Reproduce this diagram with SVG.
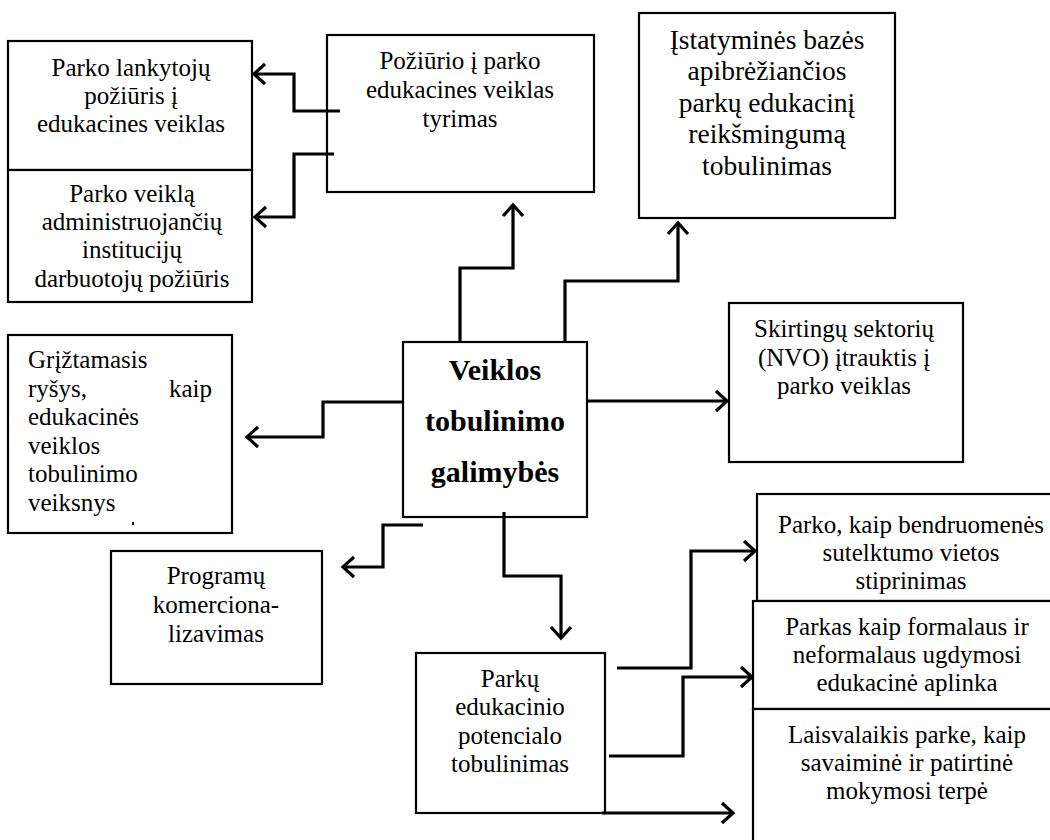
<svg xmlns="http://www.w3.org/2000/svg" width="1050" height="840" viewBox="0 0 1050 840">
<defs>
<style>
.box{fill:#fff;stroke:#000;stroke-width:2.2}
.t{font-family:"Liberation Serif","Times New Roman",serif;font-size:25px;fill:#000;text-anchor:middle}
.tl{font-family:"Liberation Serif","Times New Roman",serif;font-size:25px;fill:#000}
.tc{font-family:"Liberation Serif","Times New Roman",serif;font-size:27.5px;fill:#000;text-anchor:middle}
.tb{font-family:"Liberation Serif","Times New Roman",serif;font-size:30px;font-weight:bold;fill:#000;text-anchor:middle}
.c{fill:none;stroke:#000;stroke-width:3.2;stroke-linejoin:miter}
</style>
<marker id="ah" markerUnits="userSpaceOnUse" markerWidth="26" markerHeight="26" refX="13" refY="13" orient="auto" overflow="visible">
<path d="M2,3 L13,13 L2,23" fill="none" stroke="#000" stroke-width="3.2"/>
</marker>
</defs>
<rect width="1050" height="840" fill="#fff"/>

<g id="node-lankytoju">
<rect class="box" x="8" y="41" width="244" height="129"/>
<text class="t" x="131" y="76">Parko lankytojų</text>
<text class="t" x="131" y="104">požiūris į</text>
<text class="t" x="131" y="132">edukacines veiklas</text>
</g>
<g id="node-administruojanciu">
<rect class="box" x="8" y="170" width="244" height="132"/>
<text class="t" x="132" y="202">Parko veiklą</text>
<text class="t" x="132" y="230">administruojančių</text>
<text class="t" x="132" y="258">institucijų</text>
<text class="t" x="132" y="287">darbuotojų požiūris</text>
</g>
<g id="node-poziurio">
<rect class="box" x="327" y="35" width="267" height="157"/>
<text class="t" x="460" y="69">Požiūrio į parko</text>
<text class="t" x="460" y="98">edukacines veiklas</text>
<text class="t" x="460" y="127">tyrimas</text>
</g>
<g id="node-istatymines">
<rect class="box" x="639" y="13" width="256" height="205"/>
<text class="tc" x="767" y="49">Įstatyminės bazės</text>
<text class="tc" x="767" y="80">apibrėžiančios</text>
<text class="tc" x="767" y="112">parkų edukacinį</text>
<text class="tc" x="767" y="143">reikšmingumą</text>
<text class="tc" x="767" y="175">tobulinimas</text>
</g>
<g id="node-center">
<rect class="box" x="403" y="342" width="184" height="175"/>
<text class="tb" x="495" y="380">Veiklos</text>
<text class="tb" x="495" y="431">tobulinimo</text>
<text class="tb" x="495" y="482">galimybės</text>
</g>
<g id="node-skirtingu">
<rect class="box" x="729" y="303" width="234" height="159"/>
<text class="t" x="844" y="337">Skirtingų sektorių</text>
<text class="t" x="844" y="366">(NVO) įtrauktis į</text>
<text class="t" x="844" y="394">parko veiklas</text>
</g>
<g id="node-grieztamasis">
<rect class="box" x="8" y="335" width="224" height="198"/>
<text class="tl" x="28" y="368">Grįžtamasis</text>
<text class="tl" x="28" y="397">ryšys,</text>
<text class="tl" x="212" y="397" text-anchor="end">kaip</text>
<text class="tl" x="28" y="425">edukacinės</text>
<text class="tl" x="28" y="454">veiklos</text>
<text class="tl" x="28" y="482">tobulinimo</text>
<text class="tl" x="28" y="511">veiksnys</text>
<rect x="132" y="522" width="2" height="3" fill="#000"/>
</g>
<g id="node-programu">
<rect class="box" x="111" y="551" width="211" height="133"/>
<text class="t" x="216" y="584">Programų</text>
<text class="t" x="216" y="613">komerciona-</text>
<text class="t" x="216" y="642">lizavimas</text>
</g>
<g id="node-parku">
<rect class="box" x="416" y="653" width="189" height="160"/>
<text class="t" x="510" y="687">Parkų</text>
<text class="t" x="510" y="715">edukacinio</text>
<text class="t" x="510" y="744">potencialo</text>
<text class="t" x="510" y="772">tobulinimas</text>
</g>
<g id="node-bendruomenes">
<rect class="box" x="757" y="494" width="310" height="107"/>
<text class="t" x="911" y="533">Parko, kaip bendruomenės</text>
<text class="t" x="911" y="561">sutelktumo  vietos</text>
<text class="t" x="911" y="589">stiprinimas</text>
</g>
<g id="node-formalaus">
<rect class="box" x="753" y="601" width="314" height="108"/>
<text class="t" x="907" y="635">Parkas kaip formalaus ir</text>
<text class="t" x="907" y="663">neformalaus ugdymosi</text>
<text class="t" x="907" y="691">edukacinė aplinka</text>
</g>
<g id="node-laisvalaikis">
<rect class="box" x="753" y="709" width="314" height="150"/>
<text class="t" x="907" y="743">Laisvalaikis parke, kaip</text>
<text class="t" x="907" y="771">savaiminė ir patirtinė</text>
<text class="t" x="907" y="799">mokymosi terpė</text>
</g>

<g id="connectors">
<path class="c" d="M340,111 H294 V74 H254" marker-end="url(#ah)"/>
<path class="c" d="M334,154 H294 V217 H255" marker-end="url(#ah)"/>
<path class="c" d="M460,342 V268 H513 V205" marker-end="url(#ah)"/>
<path class="c" d="M565,342 V281 H678 V223" marker-end="url(#ah)"/>
<path class="c" d="M587,401 H727" marker-end="url(#ah)"/>
<path class="c" d="M403,402 H323 V437 H247" marker-end="url(#ah)"/>
<path class="c" d="M423,525 H383 V567 H343" marker-end="url(#ah)"/>
<path class="c" d="M504,512 V576 H561 V638" marker-end="url(#ah)"/>
<path class="c" d="M617,668 H691 V551 H755" marker-end="url(#ah)"/>
<path class="c" d="M609,756 H683 V677 H752" marker-end="url(#ah)"/>
<path class="c" d="M602,813 H733" marker-end="url(#ah)"/>
</g>
</svg>
